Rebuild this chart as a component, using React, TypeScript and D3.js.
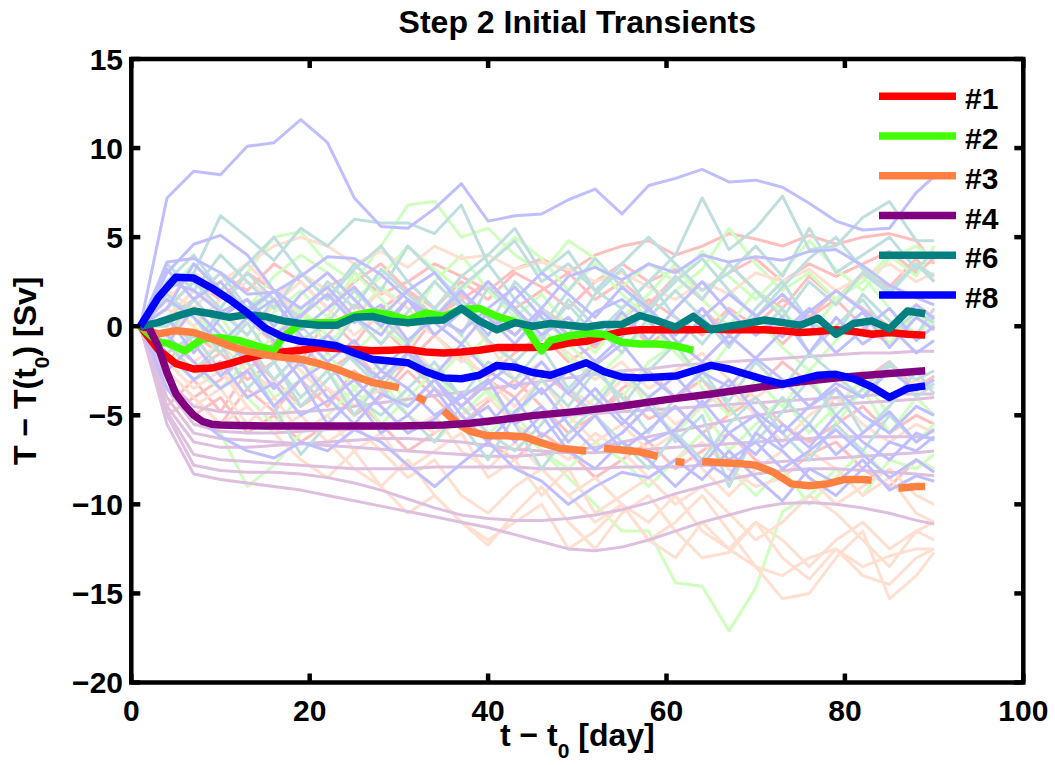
import React from 'react';
import * as d3 from 'd3';

// ---- axis ticks -------------------------------------------------------------
const xTicks = [0, 20, 40, 60, 80, 100];
const yTicks = [-20, -15, -10, -5, 0, 5, 10, 15];

// ---- ensemble members (sampled days shared by every member) -----------------
const memberDays = [1, 4, 7, 10, 13, 16, 19, 22, 25, 28, 31, 34, 37, 40, 43, 46, 49, 52, 55, 58, 61, 64, 67, 70, 73, 76, 79, 82, 85, 88, 90];

const members1 = [
  [0, 1.0, 2.5, 1.5, 3.0, 2.0, 1.0, 2.2, 3.0, 1.8, 2.5, 3.5, 2.8, 2.0, 3.2, 3.8, 3.0, 4.0, 4.5, 4.8, 4.0, 4.5, 5.2, 4.9, 4.5, 5.1, 4.6, 5.0, 5.2, 4.8, 3.5],
  [0, -4.5, -3.0, -4.8, -2.5, -1.0, -2.0, 0.5, -1.0, 1.0, 2.0, 0.5, 1.5, 2.5, 1.0, 2.0, 3.0, 1.5, 2.5, 1.2, 2.8, 1.5, 3.5, 2.0, 1.0, 2.8, 1.5, 3.0, 2.2, 3.8, 2.5],
  [0, -5.0, -4.0, -5.5, -3.5, -4.8, -3.0, -4.5, -2.5, -3.8, -2.0, -3.5, -4.5, -3.0, -4.0, -2.5, -3.8, -5.0, -3.5, -2.5, -4.0, -3.0, -4.8, -3.5, -2.0, -3.2, -4.5, -3.0, -2.0, -3.5, -2.8],
  [0, -2.0, -0.5, -1.5, 0.5, -1.0, 0.8, -0.5, 1.2, 0.0, -1.5, 0.5, 1.8, 0.5, -0.5, 1.0, 0.0, -1.2, 0.5, 1.5, 0.5, -0.5, 1.0, 0.0, 1.5, 0.5, 2.0, 1.0, 0.0, 1.2, 0.5],
  [0, -3.5, -5.0, -4.0, -6.0, -5.0, -6.5, -5.5, -4.0, -5.5, -7.0, -6.0, -5.0, -6.5, -7.5, -6.0, -7.0, -8.5, -7.5, -6.5, -8.0, -7.0, -6.0, -7.5, -8.5, -7.2, -6.5, -8.0, -9.0, -7.5, -8.0],
  [0, -1.0, -2.5, -1.5, -3.0, -2.0, -1.0, -2.5, -1.5, -3.0, -2.0, -0.5, -1.8, -2.8, -1.5, -0.5, -2.0, -1.0, 0.5, -1.0, 0.0, 1.0, -0.5, 0.5, -1.0, 0.5, 1.5, 0.0, -1.0, 0.5, -0.2],
  [0, -2.5, -4.0, -3.0, -1.5, -3.0, -4.5, -3.5, -5.0, -4.0, -2.5, -4.0, -5.5, -4.2, -3.0, -4.5, -6.0, -5.0, -3.8, -5.2, -4.5, -6.0, -5.0, -4.0, -5.5, -6.5, -5.5, -4.5, -6.0, -5.0, -5.5],
  [0, 0.5, 1.5, 3.0, 2.0, 3.5, 2.5, 1.0, 2.5, 3.5, 2.0, 1.0, 2.5, 1.5, 3.0, 2.2, 1.0, 2.5, 3.5, 2.5, 3.2, 2.0, 3.0, 3.8, 2.5, 3.5, 2.8, 3.5, 4.2, 3.0, 3.8],
];

const members2 = [
  [0, 0.5, 2.0, 1.0, 3.0, 5.0, 5.3, 3.5, 2.5, 4.5, 6.8, 7.0, 5.0, 5.5, 4.0, 3.0, 4.8, 3.8, 2.2, 3.5, 2.5, 4.2, 2.8, 1.5, 3.0, 4.8, 3.2, 2.0, 3.8, 4.5, 3.8],
  [0, -2.0, -1.0, 0.5, -1.5, 0.8, 2.0, 0.5, 3.0, 1.5, 0.0, 2.5, 4.0, 2.0, 0.5, 1.8, 0.0, -1.5, 0.5, 1.8, 3.5, 1.5, 0.0, 2.0, 0.8, -0.5, 1.5, 2.8, 1.0, -0.5, 0.5],
  [0, -3.0, -5.0, -6.0, -9.0, -7.8, -6.0, -5.0, -3.5, -5.5, -4.0, -2.5, -4.5, -6.0, -4.8, -7.0, -8.5, -10.0, -11.5, -11.5, -14.4, -14.6, -17.1, -14.7, -10.4, -9.5, -8.0, -9.5, -7.5, -8.0, -7.2],
  [0, 1.5, 0.0, -1.5, 0.5, 2.0, 0.8, -1.0, 0.5, 2.2, 1.0, -0.5, -2.0, -0.5, 1.5, 0.0, -1.8, -3.0, -1.5, 0.2, -1.5, -3.0, -1.0, 0.5, -1.2, -2.5, -0.8, 0.8, -1.0, 0.8, 0.0],
  [0, -1.0, -2.5, -3.5, -2.0, -4.0, -3.0, -1.5, -3.5, -2.0, -4.5, -3.0, -1.5, -3.8, -5.0, -3.5, -5.5, -4.0, -2.5, -4.5, -6.0, -4.5, -7.0, -5.5, -4.0, -6.0, -4.5, -3.0, -5.0, -6.5, -5.5],
  [0, 2.0, 3.5, 2.0, 1.0, 2.8, 4.0, 3.0, 1.5, 2.8, 4.5, 3.2, 2.0, 3.5, 5.0, 3.8, 2.0, 3.5, 1.8, 0.5, 2.0, 3.2, 5.5, 3.5, 2.0, 3.0, 1.5, 2.5, 4.0, 2.8, 4.5],
  [0, -0.5, 0.8, -0.8, -2.0, -0.5, 1.0, -0.5, -1.5, 0.0, -1.2, 1.0, -0.5, -2.5, -1.0, 0.5, -1.0, -2.5, -4.0, -2.0, -1.0, -3.5, -5.0, -3.0, -4.5, -2.5, -5.5, -3.5, -6.0, -4.0, -5.0],
  [0, -1.5, -3.0, -2.0, -4.0, -5.5, -4.0, -2.5, -4.5, -3.0, -5.0, -6.5, -5.0, -3.5, -5.5, -7.0, -8.0, -6.5, -7.5, -9.0, -7.5, -6.0, -8.0, -9.5, -8.0, -10.0, -8.5, -7.0, -8.5, -7.5, -8.0],
];

const members3 = [
  [0, 1.5, 3.0, 2.0, 3.5, 4.5, 5.0, 4.5, 3.5, 4.2, 3.3, 4.5, 3.8, 4.0, 3.2, 3.6, 3.2, 2.5, 3.0, 2.2, 1.5, 2.5, 1.8, 3.0, 2.5, 3.2, 2.0, 2.8, 3.5, 2.5, 3.0],
  [0, -2.0, -3.5, -2.5, -4.5, -6.0, -5.0, -6.5, -8.0, -9.0, -7.5, -9.5, -11.0, -12.3, -10.5, -9.0, -11.0, -12.5, -10.5, -9.5, -11.5, -13.0, -12.7, -11.0, -13.0, -14.2, -12.5, -13.5, -12.9, -12.5, -12.5],
  [0, -1.5, -0.5, -2.5, -4.0, -3.0, -5.0, -6.5, -5.5, -7.0, -8.5, -7.5, -9.5, -10.5, -9.0, -8.0, -9.5, -11.0, -10.0, -12.0, -11.0, -9.5, -11.5, -13.5, -15.3, -15.0, -13.0, -11.5, -15.3, -14.0, -12.7],
  [0, -3.0, -4.5, -3.5, -5.5, -4.0, -6.0, -5.0, -7.0, -6.0, -8.0, -7.0, -6.0, -8.5, -7.5, -9.5, -8.0, -10.5, -9.5, -8.5, -10.0, -9.0, -10.5, -12.0, -11.0, -9.5, -10.5, -12.0, -13.5, -11.5, -12.0],
  [0, 0.5, 2.0, 1.0, -0.5, 1.2, 2.5, 1.0, -0.5, 0.8, -1.0, -2.5, -1.5, -3.0, -4.5, -3.0, -5.0, -6.5, -5.5, -7.0, -6.0, -8.0, -9.5, -8.0, -7.0, -8.5, -10.0, -9.0, -8.0, -9.5, -10.0],
  [0, -1.0, -2.0, -1.0, -2.5, -3.5, -2.0, -3.5, -4.5, -3.5, -5.0, -6.0, -5.0, -4.0, -5.5, -6.5, -7.5, -6.0, -7.0, -8.5, -7.5, -6.5, -8.0, -9.0, -8.5, -7.0, -8.0, -9.5, -8.5, -10.5, -11.0],
  [0, 2.0, 1.0, 2.5, 3.5, 2.0, 0.5, 1.8, 0.5, -1.0, 0.5, -0.5, -2.0, -1.0, -3.0, -2.0, -3.5, -4.5, -3.0, -4.0, -5.5, -4.5, -3.5, -5.0, -6.5, -5.0, -4.0, -5.5, -6.5, -5.5, -6.0],
  [0, -2.5, -4.0, -5.5, -4.5, -6.0, -7.5, -8.5, -7.0, -9.0, -10.5, -9.5, -11.0, -12.0, -11.0, -10.0, -12.5, -11.5, -10.0, -12.0, -13.0, -11.0, -12.5, -13.5, -14.0, -13.0, -12.5, -14.0, -14.5, -13.0, -12.5],
  [0, -0.5, 1.0, -0.5, -2.0, -1.0, -2.5, -4.0, -3.0, -4.5, -6.0, -5.0, -7.0, -8.0, -6.5, -8.0, -9.5, -8.5, -10.0, -11.0, -9.5, -11.5, -12.5, -11.0, -12.0, -13.5, -12.0, -11.0, -12.5, -11.5, -11.0],
  [0, 1.0, 0.0, 1.5, 2.5, 1.5, 3.0, 2.0, 0.5, 2.0, 1.0, -0.5, 1.0, -1.0, -2.0, -0.5, -1.5, -3.0, -2.0, -3.5, -2.5, -1.5, -3.0, -4.0, -3.0, -4.5, -3.5, -2.5, -4.0, -3.0, -3.5],
];

const members4 = [
  [0, -5.5, -8.3, -8.6, -8.8, -9.0, -9.2, -9.5, -9.8, -10.1, -10.4, -10.7, -11.0, -11.3, -11.7, -12.1, -12.5, -12.6, -12.4, -12.0, -11.5, -11.0, -10.6, -10.2, -9.95, -9.9, -10.0, -10.2, -10.5, -10.9, -11.1],
  [0, -5.0, -7.8, -8.1, -8.2, -8.2, -8.3, -8.5, -8.8, -9.2, -9.7, -10.2, -10.6, -10.8, -10.9, -10.9, -10.8, -10.6, -10.3, -9.9, -9.4, -9.0, -8.6, -8.3, -8.1, -8.0, -8.0, -8.1, -8.2, -8.3, -8.4],
  [0, -4.8, -7.2, -7.5, -7.6, -7.7, -7.8, -7.9, -8.0, -8.0, -8.0, -7.9, -7.9, -7.9, -7.9, -8.0, -8.0, -8.0, -7.9, -7.9, -7.9, -7.8, -7.8, -7.7, -7.6, -7.5, -7.4, -7.3, -7.2, -7.1, -7.0],
  [0, -4.5, -6.5, -6.8, -6.8, -6.7, -6.6, -6.5, -6.4, -6.3, -6.3, -6.4, -6.5, -6.7, -6.9, -7.0, -7.1, -7.1, -7.0, -6.9, -6.8, -6.7, -6.6, -6.5, -6.4, -6.3, -6.2, -6.2, -6.2, -6.2, -6.3],
  [0, -3.5, -5.5, -5.9, -6.0, -6.0, -5.9, -5.8, -5.8, -5.7, -5.6, -5.5, -5.4, -5.3, -5.2, -5.1, -5.0, -4.9, -4.8, -4.7, -4.6, -4.5, -4.4, -4.3, -4.2, -4.1, -4.0, -3.9, -3.8, -3.8, -3.8],
  [0, -3.0, -4.5, -4.8, -4.9, -4.9, -4.8, -4.7, -4.5, -4.3, -4.1, -3.9, -3.7, -3.5, -3.3, -3.1, -2.9, -2.7, -2.5, -2.4, -2.2, -2.1, -2.0, -1.9, -1.8, -1.7, -1.6, -1.5, -1.5, -1.4, -1.4],
  [0, -4.0, -6.0, -6.3, -6.4, -6.5, -6.6, -6.7, -6.8, -6.9, -7.0, -7.1, -7.2, -7.3, -7.3, -7.2, -7.0, -6.8, -6.5, -6.2, -5.9, -5.6, -5.3, -5.0, -4.8, -4.6, -4.4, -4.3, -4.2, -4.1, -4.0],
];

const members6 = [
  [0, 2.0, 3.0, 6.2, 5.0, 3.7, 5.5, 4.5, 6.0, 5.8, 5.8, 5.2, 6.8, 3.5, 4.8, 2.5, 3.5, 2.0, 1.0, 2.5, 4.0, 7.2, 4.3, 5.5, 7.3, 4.3, 4.5, 6.1, 7.0, 4.8, 4.8],
  [0, 1.0, 2.5, 1.0, 3.0, 1.5, 0.5, 2.5, 1.0, 3.2, 1.8, 0.5, 2.2, 3.5, 1.5, 0.0, 2.0, 3.8, 2.2, 0.8, 2.8, 1.5, 3.5, 2.0, 0.5, 2.5, 1.2, 3.0, 1.8, 3.5, 2.8],
  [0, 0.5, -1.0, 0.8, -0.5, 1.5, -0.8, 0.2, 2.0, 0.5, -1.0, 1.0, -0.5, 2.2, 0.8, -0.8, 1.5, 0.0, -1.5, 0.5, 2.0, 0.5, -1.2, 1.0, 2.5, 0.2, -0.5, 1.8, 0.3, -0.5, 1.0],
  [0, -1.5, -0.5, -2.5, -1.0, -3.0, -1.5, -0.5, -2.0, -3.5, -1.5, -2.5, -4.0, -2.0, -3.0, -1.2, -3.5, -2.0, -4.5, -2.5, -1.0, -3.0, -4.2, -2.0, -3.5, -1.5, -2.8, -4.0, -2.2, -3.0, -2.5],
  [0, 1.8, 0.5, -1.5, 0.2, -2.0, -4.0, -2.5, -5.0, -3.0, -1.5, -3.5, -5.5, -7.5, -5.0, -3.0, -4.5, -2.5, -4.0, -6.0, -4.0, -2.5, -4.5, -6.5, -4.8, -3.0, -5.0, -3.5, -2.0, -4.0, -3.2],
  [0, -0.5, 1.5, 0.0, -2.0, -4.5, -7.2, -5.5, -4.0, -5.0, -3.5, -2.0, -4.0, -3.0, -5.5, -8.0, -6.0, -4.5, -2.5, -4.0, -6.5, -5.0, -9.0, -6.0, -4.0, -5.5, -3.5, -6.0, -4.5, -2.5, -3.8],
  [0, 3.5, 2.0, 4.0, 2.5, 1.0, 3.0, 1.5, 3.5, 2.0, 4.5, 3.0, 1.5, 0.0, 2.5, 1.0, -0.5, 1.8, 3.2, 1.0, 2.5, 3.8, 2.0, 0.5, 2.2, 3.8, 5.0, 3.2, 2.0, 3.5, 2.5],
  [0, 0.0, 1.5, 3.0, 1.0, 2.0, 0.0, -1.5, 0.5, -1.0, 0.8, 2.5, 1.0, -0.8, -2.0, -0.5, 1.2, -0.5, 1.0, 2.5, 0.5, -1.0, 0.8, -0.5, 1.0, -1.5, 0.0, 1.5, -0.5, 0.8, 0.2],
  [0, 2.5, 4.0, 2.0, 3.5, 5.0, 3.0, 1.5, 3.2, 4.5, 2.5, 1.0, 2.8, 4.0, 5.5, 3.0, 4.2, 2.0, 3.5, 5.0, 3.5, 2.0, 3.0, 4.5, 2.8, 5.5, 3.0, 4.0, 5.0, 3.2, 4.2],
  [0, -1.0, -2.5, -1.0, -3.5, -2.0, -4.5, -3.0, -1.5, -3.5, -5.0, -6.5, -4.5, -6.0, -7.0, -5.5, -3.5, -5.0, -6.5, -8.0, -6.0, -7.5, -5.5, -4.0, -6.0, -7.5, -5.5, -7.0, -5.0, -6.5, -5.8],
];

const members8 = [
  [0, 7.2, 8.7, 8.5, 10.1, 10.3, 11.6, 10.3, 7.2, 5.6, 5.5, 6.6, 8.0, 5.9, 6.2, 6.3, 7.1, 7.7, 6.3, 7.9, 8.3, 8.8, 8.1, 8.2, 7.8, 6.9, 5.9, 5.4, 5.5, 7.5, 8.4],
  [0, 3.0, 4.6, 5.1, 4.0, 2.0, 1.0, 2.2, 0.5, -0.5, 1.5, 0.2, -1.0, 0.8, -0.5, 1.0, 2.8, 3.3, 2.6, 3.5, 3.0, 4.0, 3.6, 3.9, 3.7, 4.2, 4.3, 3.4, 2.3, 1.6, 1.2],
  [0, 3.6, 3.8, 3.0, 1.8, 1.9, 2.8, 3.9, 3.8, 2.9, 1.5, 0.5, -0.3, 1.0, 2.2, 0.5, -0.8, 0.8, 1.5, 0.3, -1.2, 0.5, 1.8, 0.6, -0.6, 0.8, 2.0, 0.9, -0.3, 1.2, 0.4],
  [0, -3.5, -5.0, -6.2, -7.0, -7.4, -6.5, -7.0, -5.8, -6.5, -7.8, -9.0, -7.7, -6.5, -8.0, -8.7, -10.0, -9.0, -8.2, -8.5, -7.5, -8.6, -7.0, -8.5, -9.8, -8.0, -8.8, -7.5, -9.2, -8.4, -8.7],
  [0, -1.5, -3.0, -2.0, -4.0, -3.2, -5.0, -4.2, -3.0, -4.5, -6.0, -5.2, -3.8, -5.5, -4.0, -6.2, -5.0, -3.5, -5.2, -6.5, -5.8, -4.2, -6.0, -7.2, -5.5, -6.8, -5.0, -6.5, -7.5, -6.0, -6.4],
  [0, 1.5, 0.5, -1.0, 0.5, -0.8, -2.2, -0.5, -1.8, -3.0, -1.5, -2.8, -1.0, -2.5, -3.5, -2.0, -3.8, -2.2, -1.0, -2.8, -4.0, -2.6, -3.4, -1.8, -3.0, -4.5, -3.2, -4.0, -2.5, -3.6, -3.0],
  [0, 2.5, 2.0, 0.8, 1.5, -0.5, 0.6, 1.8, 0.2, 1.2, -0.8, 0.5, 2.0, 0.5, -1.0, 0.8, -0.5, -2.0, -0.6, 1.0, -0.8, -2.0, -0.5, -1.8, -0.3, 1.0, -0.5, 0.8, -1.2, 0.5, -0.2],
  [0, -2.5, -1.0, -2.8, -1.5, -3.5, -2.0, -4.0, -5.5, -3.8, -4.5, -3.0, -5.0, -6.5, -4.8, -3.5, -5.5, -7.0, -6.0, -4.5, -6.2, -7.8, -6.0, -5.0, -6.8, -5.5, -7.2, -6.0, -4.8, -6.5, -5.8],
  [0, 3.2, 1.5, 2.5, 0.8, 2.0, -0.2, 1.0, 2.2, 0.5, 2.0, 3.0, 1.2, -0.5, 1.5, 3.0, 1.8, 0.5, 2.2, 1.0, -0.5, 1.0, -1.0, 0.5, 1.8, 0.2, -1.5, -0.2, 1.0, -0.8, 0.0],
  [0, -1.0, 1.0, -0.5, -2.0, -1.0, -3.0, -2.0, -4.0, -2.5, -3.5, -5.0, -4.0, -3.0, -5.5, -4.5, -6.5, -5.0, -7.0, -5.8, -4.5, -6.0, -7.5, -6.5, -8.0, -7.0, -5.8, -7.2, -8.5, -7.5, -8.2],
  [0, 1.0, 3.5, 2.0, 0.5, 1.5, -0.5, -2.0, -0.8, -2.5, -1.0, -3.0, -4.5, -3.2, -2.0, -3.8, -2.5, -4.0, -5.5, -4.0, -2.8, -4.5, -3.0, -4.8, -6.0, -4.5, -3.5, -5.0, -6.0, -4.5, -5.0],
  [0, 0.5, -1.5, 0.5, 1.5, 0.0, 1.8, 3.0, 1.5, 0.0, 1.5, -0.5, 0.8, 2.5, 1.0, -0.5, 0.5, -1.0, 0.8, -0.8, 1.0, 2.5, 0.8, -0.5, 0.5, -1.5, 0.5, -1.0, 0.0, -1.5, -0.8],
  [0, -0.5, -2.0, -3.5, -2.5, -4.5, -3.0, -5.5, -4.0, -6.0, -5.0, -3.5, -5.5, -4.5, -6.5, -5.0, -7.0, -8.0, -6.5, -7.5, -9.0, -7.5, -8.5, -6.0, -7.0, -8.5, -9.5, -8.0, -6.5, -7.0, -6.2],
];

// ---- ensemble means (each with its own days; null = missing day) -------------
const mean1Days = [1, 3, 5, 7, 9, 11, 13, 15, 17, 19, 21, 23, 25, 27, 29, 31, 33, 35, 37, 39, 41, 43, 45, 47, 49, 51, 53, 55, 57, 59, 61, 63, 65, 67, 69, 71, 73, 75, 77, 79, 81, 83, 85, 87, 89];
const mean1 = [0, -1.3, -2.1, -2.4, -2.35, -2.1, -1.8, -1.56, -1.45, -1.35, -1.2, -1.25, -1.3, -1.38, -1.35, -1.3, -1.45, -1.5, -1.45, -1.35, -1.2, -1.2, -1.2, -1.15, -0.95, -0.85, -0.55, -0.3, -0.2, -0.2, -0.2, -0.2, -0.15, -0.2, -0.2, -0.2, -0.25, -0.35, -0.3, -0.2, -0.3, -0.45, -0.35, -0.45, -0.5];

const mean2Days = [1, 3, 4, 6, 8, 10, 12, 14, 16, 17, 19, 21, 23, 25, 27, 29, 31, 33, 35, 37, 39, 41, 43, 44, 46, 47, 49, 51, 53, 55, 57, 59, 61, 63];
const mean2 = [0, -0.9, -0.95, -1.38, -0.7, -0.65, -0.8, -1.1, -1.35, -0.6, 0.15, 0.2, 0.2, 0.6, 0.8, 0.65, 0.35, 0.75, 0.55, 0.95, 1.0, 0.55, 0.25, 0.1, -1.38, -0.8, -0.55, -0.4, -0.45, -0.9, -1.0, -1.0, -1.1, -1.35];

const mean3Days = [1, 2, 3, 5, 7, 9, 11, 13, 15, 17, 19, 21, 23, 25, 27, 29, 30, 31, 32, 33, 34, 35, 36, 37, 38, 40, 42, 44, 46, 48, 50, 51, 52, 53, 55, 57, 59, 60, 61, 62, 63, 64, 66, 68, 70, 72, 74, 76, 78, 80, 82, 83, 84, 86, 88, 89];
const mean3 = [0, -0.25, -0.44, -0.25, -0.35, -0.7, -1.1, -1.4, -1.6, -1.75, -1.85, -2.1, -2.4, -2.8, -3.15, -3.35, -3.45, null, -3.95, -4.2, null, -4.75, -5.2, -5.6, -5.9, -6.15, -6.15, -6.2, -6.55, -6.85, -6.95, -7.0, null, -6.85, -6.95, -7.05, -7.3, null, -7.6, -7.65, null, -7.6, -7.65, -7.7, -7.8, -8.2, -8.85, -8.95, -8.85, -8.6, -8.6, -8.65, null, -9.1, -9.0, -9.0];

const mean4Days = [1, 2, 3, 4, 5, 6, 7, 8, 9, 10, 12, 15, 20, 25, 30, 35, 38, 41, 45, 50, 55, 60, 65, 70, 75, 80, 85, 89];
const mean4 = [0, -0.1, -1.1, -2.6, -3.8, -4.45, -5.0, -5.35, -5.5, -5.55, -5.58, -5.6, -5.6, -5.6, -5.6, -5.55, -5.45, -5.28, -5.02, -4.78, -4.48, -4.12, -3.8, -3.45, -3.12, -2.85, -2.65, -2.5];

const mean6Days = mean1Days;
const mean6 = [0, 0.2, 0.55, 0.85, 0.7, 0.5, 0.65, 0.55, 0.3, 0.15, 0.05, 0.05, 0.5, 0.55, 0.3, 0.2, 0.3, 0.35, 1.0, 0.3, -0.2, 0.2, 0.0, 0.15, 0.05, -0.05, 0.1, 0.1, 0.6, 0.3, -0.05, 0.55, -0.2, 0.0, 0.15, 0.35, 0.2, 0.05, 0.45, -0.45, 0.15, 0.3, -0.15, 0.85, 0.7];

const mean8Days = mean1Days;
const mean8 = [0, 1.6, 2.75, 2.7, 2.15, 1.5, 0.75, -0.1, -0.6, -0.85, -0.95, -1.1, -1.5, -1.85, -1.95, -2.05, -2.55, -2.9, -2.95, -2.75, -2.2, -2.3, -2.6, -2.75, -2.4, -2.05, -2.55, -2.85, -2.9, -2.85, -2.8, -2.5, -2.2, -2.4, -2.7, -3.0, -3.25, -3.0, -2.75, -2.7, -2.95, -3.4, -4.0, -3.5, -3.35];

// ---- legend / styling -------------------------------------------------------
const runLabels = ['#1', '#2', '#3', '#4', '#6', '#8'];
const runColors = ['#ff0000', '#40ff00', '#ff8040', '#800080', '#008080', '#0000ff'];

const FONT = '"Liberation Sans", Arial, Helvetica, sans-serif';
const WIDTH = 1055;
const HEIGHT = 765;
const PLOT = { left: 131.3, right: 1023.3, top: 59, bottom: 682.5 };

type Pt = [number, number | null];

export default function App() {
  const x = d3.scaleLinear().domain([0, 100]).range([PLOT.left, PLOT.right]);
  const y = d3.scaleLinear().domain([-20, 15]).range([PLOT.bottom, PLOT.top]);
  const line = d3
    .line<Pt>()
    .defined((d) => d[1] !== null)
    .x((d) => x(d[0]))
    .y((d) => y(d[1] as number));

  const runs = [
    { members: members1, days: mean1Days, mean: mean1 },
    { members: members2, days: mean2Days, mean: mean2 },
    { members: members3, days: mean3Days, mean: mean3 },
    { members: members4, days: mean4Days, mean: mean4 },
    { members: members6, days: mean6Days, mean: mean6 },
    { members: members8, days: mean8Days, mean: mean8 },
  ];

  const faint = (c: string) => d3.interpolateRgb('#ffffff', c)(0.25);

  const legendTop = 96.3;
  const legendStep = 39.75;
  const midX = (PLOT.left + PLOT.right) / 2;

  return (
    <div style={{ position: 'absolute', left: 0, top: 0 }}>
      <svg width={WIDTH} height={HEIGHT} viewBox={`0 0 ${WIDTH} ${HEIGHT}`} style={{ display: 'block', background: '#fff' }}>
        <rect x={0} y={0} width={WIDTH} height={HEIGHT} fill="#ffffff" />

        {/* individual ensemble members */}
        <g fill="none" strokeWidth={3} strokeLinejoin="round">
          {runs.map((r, i) =>
            r.members.map((vals, j) => (
              <path
                key={`m-${i}-${j}`}
                d={line(vals.map((v, k) => [memberDays[k], v] as Pt)) || ''}
                stroke={faint(runColors[i])}
              />
            ))
          )}
        </g>

        {/* ensemble means */}
        <g fill="none" strokeWidth={7.5} strokeLinejoin="round" strokeLinecap="butt">
          {runs.map((r, i) => (
            <path
              key={`mean-${i}`}
              d={line(r.mean.map((v, k) => [r.days[k], v] as Pt)) || ''}
              stroke={runColors[i]}
            />
          ))}
        </g>

        {/* axes box and inward ticks */}
        <g stroke="#000" strokeWidth={4.5}>
          {xTicks.map((t) => (
            <g key={`xt-${t}`}>
              <line x1={x(t)} x2={x(t)} y1={PLOT.bottom} y2={PLOT.bottom - 9} />
              <line x1={x(t)} x2={x(t)} y1={PLOT.top} y2={PLOT.top + 9} />
            </g>
          ))}
          {yTicks.map((t) => (
            <g key={`yt-${t}`}>
              <line x1={PLOT.left} x2={PLOT.left + 9} y1={y(t)} y2={y(t)} />
              <line x1={PLOT.right} x2={PLOT.right - 9} y1={y(t)} y2={y(t)} />
            </g>
          ))}
          <rect
            x={PLOT.left}
            y={PLOT.top}
            width={PLOT.right - PLOT.left}
            height={PLOT.bottom - PLOT.top}
            fill="none"
          />
        </g>

        {/* tick labels */}
        <g fontFamily={FONT} fontWeight="bold" fontSize={30} fill="#000">
          {xTicks.map((t) => (
            <text key={`xl-${t}`} x={x(t)} y={720.5} textAnchor="middle">
              {t}
            </text>
          ))}
          {yTicks.map((t) => (
            <text key={`yl-${t}`} x={123} y={y(t) + 10.5} textAnchor="end">
              {t < 0 ? `\u2212${-t}` : t}
            </text>
          ))}
        </g>

        {/* title and axis labels */}
        <g fontFamily={FONT} fontWeight="bold" fontSize={32} fill="#000">
          <text x={midX} y={33} textAnchor="middle">
            Step 2 Initial Transients
          </text>
          <text x={midX} y={746} textAnchor="middle">
            t {'\u2212'} t<tspan fontSize={21} dy={12}>0</tspan>
            <tspan dy={-12}> [day]</tspan>
          </text>
          <text transform={`translate(35.5, ${(PLOT.top + PLOT.bottom) / 2}) rotate(-90)`} textAnchor="middle">
            T {'\u2212'} T(t<tspan fontSize={21} dy={13}>0</tspan>
            <tspan dy={-13}>) [Sv]</tspan>
          </text>
        </g>

        {/* legend */}
        <g>
          {runLabels.map((lab, i) => (
            <g key={`lg-${lab}`}>
              <line
                x1={879}
                x2={956}
                y1={legendTop + i * legendStep}
                y2={legendTop + i * legendStep}
                stroke={runColors[i]}
                strokeWidth={7.5}
              />
              <text
                x={965}
                y={legendTop + i * legendStep + 13}
                fontFamily={FONT}
                fontWeight="bold"
                fontSize={30}
                fill="#000"
              >
                {lab}
              </text>
            </g>
          ))}
        </g>
      </svg>
    </div>
  );
}
